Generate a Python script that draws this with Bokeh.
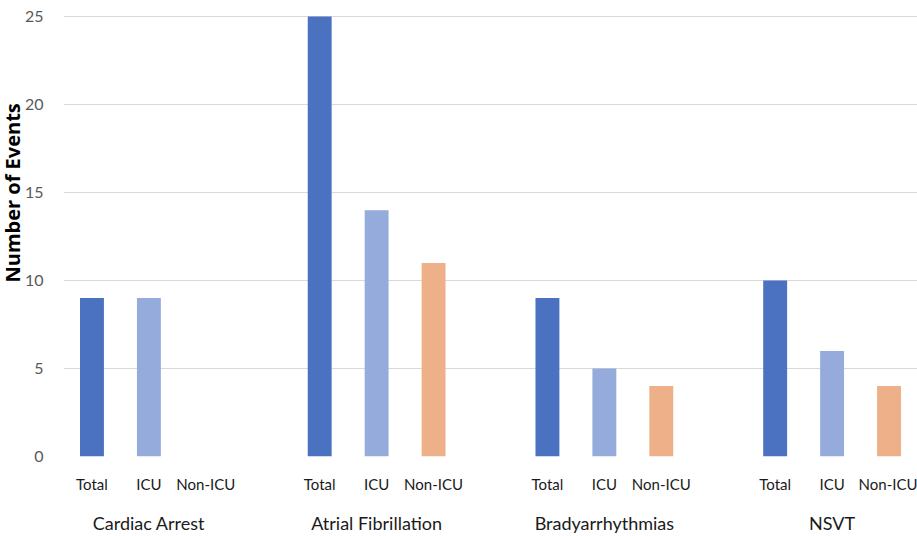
from bokeh.plotting import figure
from bokeh.models import (ColumnDataSource, Range1d, FixedTicker, LinearAxis, Title)
from bokeh.embed import file_html
from bokeh.resources import INLINE

# Arrhythmic events by type and setting
groups = ["Cardiac Arrest", "Atrial Fibrillation", "Bradyarrhythmias", "NSVT"]
subcats = ["Total", "ICU", "Non-ICU"]
total = [9, 25, 9, 10]
icu = [9, 14, 5, 6]
non_icu = [0, 11, 4, 4]
y_ticks = [0, 5, 10, 15, 20, 25]

colors = {"Total": "#4a72c0", "ICU": "#94abdb", "Non-ICU": "#edb088"}

SLOTS = 4  # three bars plus one empty slot per group
series = {"Total": total, "ICU": icu, "Non-ICU": non_icu}
FONT = "Lato"

p = figure(width=917, height=536, output_backend="svg", toolbar_location=None,
           x_range=Range1d(0, 15), y_range=Range1d(0, 25.23),
           min_border_left=0, min_border_right=0, min_border_top=12,
           min_border_bottom=0, x_axis_location=None, y_axis_location=None)
p.outline_line_color = None
p.background_fill_color = "white"
p.border_fill_color = "white"

for k, name in enumerate(subcats):
    xs = [g * SLOTS + k + 0.5 for g in range(len(groups))]
    src = ColumnDataSource(dict(x=xs, top=series[name]))
    p.vbar(x="x", top="top", bottom=0, width=0.42, source=src,
           fill_color=colors[name], line_color=None)

# y axis
yax = LinearAxis(ticker=FixedTicker(ticks=y_ticks))
yax.axis_line_color = None
yax.major_tick_line_color = None
yax.minor_tick_line_color = None
yax.major_label_standoff = 14
yax.major_label_text_font = FONT
yax.major_label_text_font_size = "16px"
yax.major_label_text_color = "#595959"
p.add_layout(yax, "left")

# y axis title
p.add_layout(Title(text="Number of Events", align="left", offset=174,
                   text_font="Open Sans", text_font_style="bold",
                   text_font_size="20px", text_color="#000000", standoff=-8), "left")

# grid lines
p.xgrid.visible = False
p.ygrid.ticker = FixedTicker(ticks=y_ticks)
p.ygrid.grid_line_color = "#d9d9d9"
p.ygrid.grid_line_width = 1.2

# inner category labels
sub_ticks = []
sub_labels = {}
for g in range(len(groups)):
    for k, name in enumerate(subcats):
        t = g * SLOTS + k + 0.5
        sub_ticks.append(t)
        sub_labels[t] = name
xax = LinearAxis(ticker=FixedTicker(ticks=sub_ticks), major_label_overrides=sub_labels)
xax.axis_line_color = None
xax.major_tick_line_color = None
xax.minor_tick_line_color = None
xax.major_label_standoff = 12
xax.major_label_text_font = FONT
xax.major_label_text_font_size = "15px"
xax.major_label_text_color = "#1a1a1a"
p.add_layout(xax, "below")

# outer group labels
grp_ticks = [g * SLOTS + 1.5 for g in range(len(groups))]
grp_labels = {t: name for t, name in zip(grp_ticks, groups)}
gax = LinearAxis(ticker=FixedTicker(ticks=grp_ticks), major_label_overrides=grp_labels)
gax.axis_line_color = None
gax.major_tick_line_color = None
gax.minor_tick_line_color = None
gax.major_label_standoff = 10
gax.major_label_text_font = FONT
gax.major_label_text_font_size = "18px"
gax.major_label_text_color = "#1a1a1a"
p.add_layout(gax, "below")

open("out.html", "w").write(file_html(p, INLINE))
